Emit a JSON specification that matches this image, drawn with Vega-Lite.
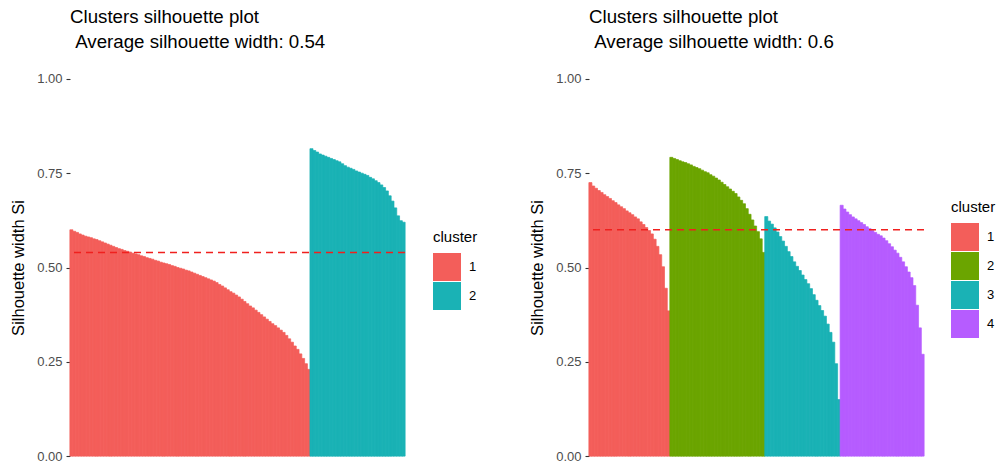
{
  "$schema": "https://vega.github.io/schema/vega-lite/v6.json",
  "background": "white",
  "padding": {"left": 10, "top": 8, "right": 5, "bottom": 0},
  "datasets": {
    "k2": [
      {"i":1,"cluster":"1","sil":0.600},{"i":2,"cluster":"1","sil":0.596},{"i":3,"cluster":"1","sil":0.593},{"i":4,"cluster":"1","sil":0.589},{"i":5,"cluster":"1","sil":0.586},
      {"i":6,"cluster":"1","sil":0.583},{"i":7,"cluster":"1","sil":0.581},{"i":8,"cluster":"1","sil":0.579},{"i":9,"cluster":"1","sil":0.576},{"i":10,"cluster":"1","sil":0.574},
      {"i":11,"cluster":"1","sil":0.571},{"i":12,"cluster":"1","sil":0.568},{"i":13,"cluster":"1","sil":0.565},{"i":14,"cluster":"1","sil":0.562},{"i":15,"cluster":"1","sil":0.559},
      {"i":16,"cluster":"1","sil":0.556},{"i":17,"cluster":"1","sil":0.553},{"i":18,"cluster":"1","sil":0.550},{"i":19,"cluster":"1","sil":0.548},{"i":20,"cluster":"1","sil":0.545},
      {"i":21,"cluster":"1","sil":0.543},{"i":22,"cluster":"1","sil":0.541},{"i":23,"cluster":"1","sil":0.538},{"i":24,"cluster":"1","sil":0.536},{"i":25,"cluster":"1","sil":0.534},
      {"i":26,"cluster":"1","sil":0.531},{"i":27,"cluster":"1","sil":0.529},{"i":28,"cluster":"1","sil":0.526},{"i":29,"cluster":"1","sil":0.524},{"i":30,"cluster":"1","sil":0.522},
      {"i":31,"cluster":"1","sil":0.519},{"i":32,"cluster":"1","sil":0.517},{"i":33,"cluster":"1","sil":0.514},{"i":34,"cluster":"1","sil":0.512},{"i":35,"cluster":"1","sil":0.510},
      {"i":36,"cluster":"1","sil":0.508},{"i":37,"cluster":"1","sil":0.505},{"i":38,"cluster":"1","sil":0.503},{"i":39,"cluster":"1","sil":0.500},{"i":40,"cluster":"1","sil":0.498},
      {"i":41,"cluster":"1","sil":0.496},{"i":42,"cluster":"1","sil":0.493},{"i":43,"cluster":"1","sil":0.491},{"i":44,"cluster":"1","sil":0.488},{"i":45,"cluster":"1","sil":0.485},
      {"i":46,"cluster":"1","sil":0.482},{"i":47,"cluster":"1","sil":0.479},{"i":48,"cluster":"1","sil":0.476},{"i":49,"cluster":"1","sil":0.473},{"i":50,"cluster":"1","sil":0.470},
      {"i":51,"cluster":"1","sil":0.467},{"i":52,"cluster":"1","sil":0.464},{"i":53,"cluster":"1","sil":0.460},{"i":54,"cluster":"1","sil":0.455},{"i":55,"cluster":"1","sil":0.451},
      {"i":56,"cluster":"1","sil":0.446},{"i":57,"cluster":"1","sil":0.441},{"i":58,"cluster":"1","sil":0.436},{"i":59,"cluster":"1","sil":0.432},{"i":60,"cluster":"1","sil":0.427},
      {"i":61,"cluster":"1","sil":0.422},{"i":62,"cluster":"1","sil":0.416},{"i":63,"cluster":"1","sil":0.410},{"i":64,"cluster":"1","sil":0.404},{"i":65,"cluster":"1","sil":0.398},
      {"i":66,"cluster":"1","sil":0.393},{"i":67,"cluster":"1","sil":0.387},{"i":68,"cluster":"1","sil":0.381},{"i":69,"cluster":"1","sil":0.375},{"i":70,"cluster":"1","sil":0.369},
      {"i":71,"cluster":"1","sil":0.363},{"i":72,"cluster":"1","sil":0.357},{"i":73,"cluster":"1","sil":0.351},{"i":74,"cluster":"1","sil":0.346},{"i":75,"cluster":"1","sil":0.340},
      {"i":76,"cluster":"1","sil":0.334},{"i":77,"cluster":"1","sil":0.328},{"i":78,"cluster":"1","sil":0.320},{"i":79,"cluster":"1","sil":0.311},{"i":80,"cluster":"1","sil":0.302},
      {"i":81,"cluster":"1","sil":0.292},{"i":82,"cluster":"1","sil":0.283},{"i":83,"cluster":"1","sil":0.271},{"i":84,"cluster":"1","sil":0.259},{"i":85,"cluster":"1","sil":0.245},
      {"i":86,"cluster":"1","sil":0.230},
      {"i":87,"cluster":"2","sil":0.815},{"i":88,"cluster":"2","sil":0.810},{"i":89,"cluster":"2","sil":0.806},{"i":90,"cluster":"2","sil":0.801},{"i":91,"cluster":"2","sil":0.798},
      {"i":92,"cluster":"2","sil":0.795},{"i":93,"cluster":"2","sil":0.792},{"i":94,"cluster":"2","sil":0.789},{"i":95,"cluster":"2","sil":0.786},{"i":96,"cluster":"2","sil":0.783},
      {"i":97,"cluster":"2","sil":0.780},{"i":98,"cluster":"2","sil":0.775},{"i":99,"cluster":"2","sil":0.770},{"i":100,"cluster":"2","sil":0.766},{"i":101,"cluster":"2","sil":0.763},
      {"i":102,"cluster":"2","sil":0.760},{"i":103,"cluster":"2","sil":0.756},{"i":104,"cluster":"2","sil":0.753},{"i":105,"cluster":"2","sil":0.750},{"i":106,"cluster":"2","sil":0.747},
      {"i":107,"cluster":"2","sil":0.744},{"i":108,"cluster":"2","sil":0.739},{"i":109,"cluster":"2","sil":0.735},{"i":110,"cluster":"2","sil":0.730},{"i":111,"cluster":"2","sil":0.725},
      {"i":112,"cluster":"2","sil":0.719},{"i":113,"cluster":"2","sil":0.712},{"i":114,"cluster":"2","sil":0.703},{"i":115,"cluster":"2","sil":0.690},{"i":116,"cluster":"2","sil":0.676},
      {"i":117,"cluster":"2","sil":0.658},{"i":118,"cluster":"2","sil":0.637},{"i":119,"cluster":"2","sil":0.624},{"i":120,"cluster":"2","sil":0.620}
    ],
    "k4": [
      {"i":1,"cluster":"1","sil":0.725},{"i":2,"cluster":"1","sil":0.716},{"i":3,"cluster":"1","sil":0.710},{"i":4,"cluster":"1","sil":0.704},{"i":5,"cluster":"1","sil":0.699},
      {"i":6,"cluster":"1","sil":0.693},{"i":7,"cluster":"1","sil":0.688},{"i":8,"cluster":"1","sil":0.683},{"i":9,"cluster":"1","sil":0.677},{"i":10,"cluster":"1","sil":0.672},
      {"i":11,"cluster":"1","sil":0.666},{"i":12,"cluster":"1","sil":0.661},{"i":13,"cluster":"1","sil":0.656},{"i":14,"cluster":"1","sil":0.650},{"i":15,"cluster":"1","sil":0.645},
      {"i":16,"cluster":"1","sil":0.640},{"i":17,"cluster":"1","sil":0.634},{"i":18,"cluster":"1","sil":0.629},{"i":19,"cluster":"1","sil":0.621},{"i":20,"cluster":"1","sil":0.614},
      {"i":21,"cluster":"1","sil":0.606},{"i":22,"cluster":"1","sil":0.598},{"i":23,"cluster":"1","sil":0.589},{"i":24,"cluster":"1","sil":0.575},{"i":25,"cluster":"1","sil":0.556},
      {"i":26,"cluster":"1","sil":0.534},{"i":27,"cluster":"1","sil":0.502},{"i":28,"cluster":"1","sil":0.445},{"i":29,"cluster":"1","sil":0.385},
      {"i":30,"cluster":"2","sil":0.792},{"i":31,"cluster":"2","sil":0.789},{"i":32,"cluster":"2","sil":0.786},{"i":33,"cluster":"2","sil":0.783},{"i":34,"cluster":"2","sil":0.780},
      {"i":35,"cluster":"2","sil":0.778},{"i":36,"cluster":"2","sil":0.775},{"i":37,"cluster":"2","sil":0.772},{"i":38,"cluster":"2","sil":0.768},{"i":39,"cluster":"2","sil":0.765},
      {"i":40,"cluster":"2","sil":0.762},{"i":41,"cluster":"2","sil":0.758},{"i":42,"cluster":"2","sil":0.754},{"i":43,"cluster":"2","sil":0.751},{"i":44,"cluster":"2","sil":0.746},
      {"i":45,"cluster":"2","sil":0.742},{"i":46,"cluster":"2","sil":0.737},{"i":47,"cluster":"2","sil":0.732},{"i":48,"cluster":"2","sil":0.726},{"i":49,"cluster":"2","sil":0.720},
      {"i":50,"cluster":"2","sil":0.714},{"i":51,"cluster":"2","sil":0.708},{"i":52,"cluster":"2","sil":0.702},{"i":53,"cluster":"2","sil":0.696},{"i":54,"cluster":"2","sil":0.687},
      {"i":55,"cluster":"2","sil":0.678},{"i":56,"cluster":"2","sil":0.669},{"i":57,"cluster":"2","sil":0.656},{"i":58,"cluster":"2","sil":0.641},{"i":59,"cluster":"2","sil":0.626},
      {"i":60,"cluster":"2","sil":0.610},{"i":61,"cluster":"2","sil":0.595},{"i":62,"cluster":"2","sil":0.576},{"i":63,"cluster":"2","sil":0.540},
      {"i":64,"cluster":"3","sil":0.635},{"i":65,"cluster":"3","sil":0.623},{"i":66,"cluster":"3","sil":0.615},{"i":67,"cluster":"3","sil":0.605},{"i":68,"cluster":"3","sil":0.594},
      {"i":69,"cluster":"3","sil":0.582},{"i":70,"cluster":"3","sil":0.570},{"i":71,"cluster":"3","sil":0.556},{"i":72,"cluster":"3","sil":0.542},{"i":73,"cluster":"3","sil":0.529},
      {"i":74,"cluster":"3","sil":0.515},{"i":75,"cluster":"3","sil":0.503},{"i":76,"cluster":"3","sil":0.492},{"i":77,"cluster":"3","sil":0.480},{"i":78,"cluster":"3","sil":0.468},
      {"i":79,"cluster":"3","sil":0.457},{"i":80,"cluster":"3","sil":0.444},{"i":81,"cluster":"3","sil":0.428},{"i":82,"cluster":"3","sil":0.413},{"i":83,"cluster":"3","sil":0.399},
      {"i":84,"cluster":"3","sil":0.386},{"i":85,"cluster":"3","sil":0.371},{"i":86,"cluster":"3","sil":0.350},{"i":87,"cluster":"3","sil":0.328},{"i":88,"cluster":"3","sil":0.302},
      {"i":89,"cluster":"3","sil":0.245},{"i":90,"cluster":"3","sil":0.150},
      {"i":91,"cluster":"4","sil":0.665},{"i":92,"cluster":"4","sil":0.655},{"i":93,"cluster":"4","sil":0.647},{"i":94,"cluster":"4","sil":0.640},{"i":95,"cluster":"4","sil":0.634},
      {"i":96,"cluster":"4","sil":0.629},{"i":97,"cluster":"4","sil":0.624},{"i":98,"cluster":"4","sil":0.619},{"i":99,"cluster":"4","sil":0.614},{"i":100,"cluster":"4","sil":0.608},
      {"i":101,"cluster":"4","sil":0.603},{"i":102,"cluster":"4","sil":0.598},{"i":103,"cluster":"4","sil":0.593},{"i":104,"cluster":"4","sil":0.588},{"i":105,"cluster":"4","sil":0.584},
      {"i":106,"cluster":"4","sil":0.578},{"i":107,"cluster":"4","sil":0.571},{"i":108,"cluster":"4","sil":0.563},{"i":109,"cluster":"4","sil":0.555},{"i":110,"cluster":"4","sil":0.546},
      {"i":111,"cluster":"4","sil":0.538},{"i":112,"cluster":"4","sil":0.527},{"i":113,"cluster":"4","sil":0.515},{"i":114,"cluster":"4","sil":0.502},{"i":115,"cluster":"4","sil":0.488},
      {"i":116,"cluster":"4","sil":0.473},{"i":117,"cluster":"4","sil":0.452},{"i":118,"cluster":"4","sil":0.400},{"i":119,"cluster":"4","sil":0.340},{"i":120,"cluster":"4","sil":0.270}
    ]
  },
  "bounds": "flush",
  "spacing": 184,
  "resolve": {
    "scale": {"color": "independent", "stroke": "independent", "x": "independent", "y": "independent"},
    "legend": {"color": "independent"}
  },
  "hconcat": [
    {
      "width": 335,
      "height": 415,
      "title": {"text": ["Clusters silhouette plot", "\u200b\u00a0Average silhouette width: 0.54"]},
      "layer": [
        {
          "data": {"name": "k2"},
          "mark": {"type": "bar", "strokeWidth": 0.7, "width": {"band": 1.1}},
          "encoding": {
            "x": {"field": "i", "type": "ordinal", "axis": null, "scale": {"paddingInner": 0, "paddingOuter": 0}},
            "y": {"field": "sil", "type": "quantitative", "scale": {"domain": [-0.05, 1.05], "nice": false, "zero": false},
                  "axis": {"title": "Silhouette width Si", "values": [0, 0.25, 0.5, 0.75, 1], "format": ".2f"}},
            "color": {"field": "cluster", "type": "nominal",
                      "scale": {"domain": ["1", "2"], "range": ["#F35E5A", "#1AB2B5"]},
                      "legend": {"title": "cluster", "orient": "none", "legendX": 363, "legendY": 170}},
            "stroke": {"field": "cluster", "type": "nominal",
                       "scale": {"domain": ["1", "2"], "range": ["#F35E5A", "#1AB2B5"]}, "legend": null}
          }
        },
        {
          "data": {"values": [{}]},
          "mark": {"type": "rule", "color": "#F0201E", "strokeDash": [7, 5], "strokeWidth": 1.5},
          "encoding": {"y": {"datum": 0.54}}
        }
      ]
    },
    {
      "width": 335,
      "height": 415,
      "title": {"text": ["Clusters silhouette plot", "\u200b\u00a0Average silhouette width: 0.6"]},
      "layer": [
        {
          "data": {"name": "k4"},
          "mark": {"type": "bar", "strokeWidth": 0.7, "width": {"band": 1.1}},
          "encoding": {
            "x": {"field": "i", "type": "ordinal", "axis": null, "scale": {"paddingInner": 0, "paddingOuter": 0}},
            "y": {"field": "sil", "type": "quantitative", "scale": {"domain": [-0.05, 1.05], "nice": false, "zero": false},
                  "axis": {"title": "Silhouette width Si", "values": [0, 0.25, 0.5, 0.75, 1], "format": ".2f"}},
            "color": {"field": "cluster", "type": "nominal",
                      "scale": {"domain": ["1", "2", "3", "4"], "range": ["#F35E5A", "#6BA500", "#1AB2B5", "#B65CFF"]},
                      "legend": {"title": "cluster", "orient": "none", "legendX": 362, "legendY": 140}},
            "stroke": {"field": "cluster", "type": "nominal",
                       "scale": {"domain": ["1", "2", "3", "4"], "range": ["#F35E5A", "#6BA500", "#1AB2B5", "#B65CFF"]}, "legend": null}
          }
        },
        {
          "data": {"values": [{}]},
          "mark": {"type": "rule", "color": "#F0201E", "strokeDash": [7, 5], "strokeWidth": 1.5},
          "encoding": {"y": {"datum": 0.6}}
        }
      ]
    }
  ],
  "config": {
    "font": "Liberation Sans",
    "view": {"stroke": null},
    "title": {"fontSize": 18.7, "fontWeight": "normal", "color": "#000000", "anchor": "start", "frame": "group",
              "lineHeight": 25, "baseline": "bottom", "offset": 8},
    "axis": {"domain": false, "grid": false, "labelFontSize": 13, "labelColor": "#4D4D4D", "tickColor": "#333333",
             "tickSize": 4, "tickWidth": 1.1, "labelPadding": 4, "titleFontSize": 16.5, "titleFontWeight": "normal",
             "titleColor": "#000000", "titlePadding": 10},
    "legend": {"titleFontSize": 15, "titleFontWeight": "normal", "titleColor": "#000000", "labelFontSize": 13,
               "labelColor": "#000000", "symbolType": "square", "symbolSize": 784, "symbolStrokeWidth": 0,
               "symbolOpacity": 1, "rowPadding": 1, "titlePadding": 8, "labelOffset": 8, "padding": 0}
  }
}
